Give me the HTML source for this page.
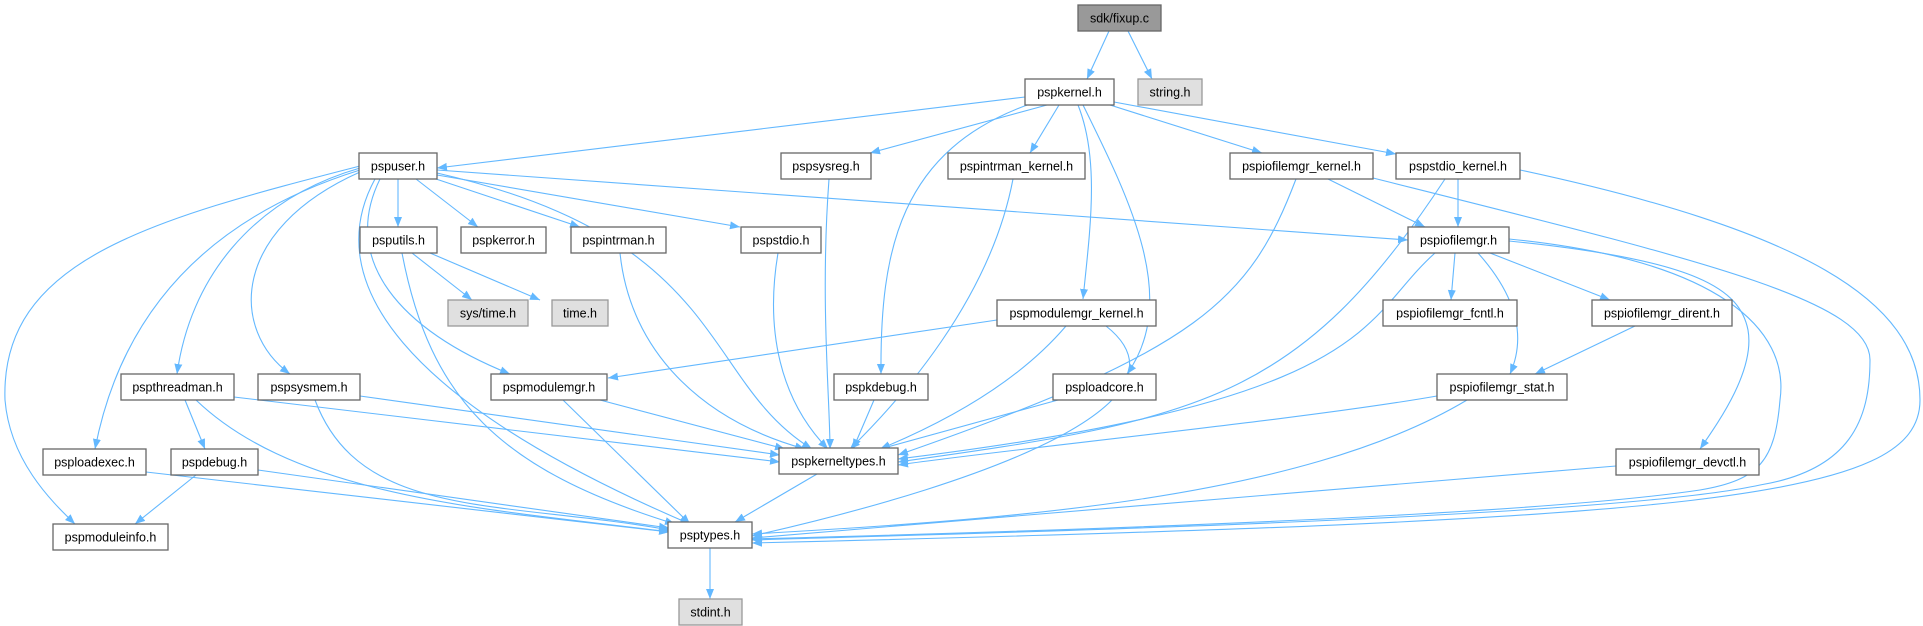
<!DOCTYPE html>
<html><head><meta charset="utf-8">
<style>
html,body{margin:0;padding:0;background:#fff;}
svg{display:block;}
text{font-family:"Liberation Sans",Helvetica,Arial,sans-serif;font-size:12.5px;fill:#000;}
.n{fill:#fff;stroke:#666;stroke-width:1.3;}
.g{fill:#e0e0e0;stroke:#999;stroke-width:1.3;}
.r{fill:#999;stroke:#666;stroke-width:1.3;}
.e{fill:none;stroke:#63b8ff;stroke-width:1.1;marker-end:url(#a);}
</style></head><body>
<svg width="1923" height="626" viewBox="0 0 1923 626" xmlns="http://www.w3.org/2000/svg">
<defs><marker id="a" viewBox="0 0 10 10" refX="10" refY="5" markerWidth="10" markerHeight="10" markerUnits="userSpaceOnUse" orient="auto"><path d="M0,1 L10,5 L0,9 z" fill="#63b8ff"/></marker></defs>
<g>
<path class="e" d="M1109,31 L1087,79"/>
<path class="e" d="M1128,31 L1152,79"/>
<path class="e" d="M1025,97 L437,168"/>
<path class="e" d="M1047,105 L870,153"/>
<path class="e" d="M1059,105 L1030,153"/>
<path class="e" d="M1110,105 L1262,153"/>
<path class="e" d="M1114,102 L1396,154"/>
<path class="e" d="M1078,105 C1100,160 1090,230 1083,299"/>
<path class="e" d="M1030,104 C900,150 880,250 881,374"/>
<path class="e" d="M1083,105 C1130,200 1180,300 1127,374"/>
<path class="e" d="M398,179 L398,227"/>
<path class="e" d="M416,179 L478,227"/>
<path class="e" d="M433,178 L580,227"/>
<path class="e" d="M437,175 L740,227"/>
<path class="e" d="M437,170 L1408,240"/>
<path class="e" d="M437,173 C730,240 700,380 812,449"/>
<path class="e" d="M380,179 C340,260 400,330 510,374"/>
<path class="e" d="M375,179 C320,280 400,400 690,524"/>
<path class="e" d="M360,168 C250,200 190,280 177,374"/>
<path class="e" d="M360,172 C230,230 230,330 290,374"/>
<path class="e" d="M360,170 C200,220 120,320 95,449"/>
<path class="e" d="M360,166 C150,220 0,260 5,400 C10,460 50,500 75,524"/>
<path class="e" d="M412,253 L472,300"/>
<path class="e" d="M430,253 L540,300"/>
<path class="e" d="M402,253 C430,400 500,470 675,524"/>
<path class="e" d="M620,253 C630,350 700,420 805,449"/>
<path class="e" d="M778,253 C765,330 780,400 828,449"/>
<path class="e" d="M829,179 C820,300 830,400 830,449"/>
<path class="e" d="M1013,179 C990,300 900,400 850,449"/>
<path class="e" d="M874,400 L853,449"/>
<path class="e" d="M1058,400 L880,449"/>
<path class="e" d="M1066,326 C1020,380 950,420 880,449"/>
<path class="e" d="M997,320 L608,378"/>
<path class="e" d="M1106,326 C1200,400 1000,480 752,536"/>
<path class="e" d="M1328,179 L1425,227"/>
<path class="e" d="M1296,179 C1250,300 1200,350 898,455"/>
<path class="e" d="M1373,178 C1700,260 1870,300 1870,360 C1870,420 1850,470 1760,485 C1600,520 900,535 752,540"/>
<path class="e" d="M1458,179 L1458,227"/>
<path class="e" d="M1445,179 C1300,400 1200,420 898,462"/>
<path class="e" d="M1520,170 C1800,230 1920,300 1920,400 C1920,500 1700,520 752,543"/>
<path class="e" d="M1455,253 L1451,300"/>
<path class="e" d="M1490,253 L1610,300"/>
<path class="e" d="M1478,253 C1520,300 1525,340 1510,374"/>
<path class="e" d="M1509,241 C1700,260 1740,290 1748,330 C1755,370 1720,420 1700,449"/>
<path class="e" d="M1435,253 C1360,320 1380,400 898,459"/>
<path class="e" d="M1509,239 C1720,260 1790,330 1780,400 C1775,460 1760,480 1700,490 C1500,520 900,535 752,539"/>
<path class="e" d="M1635,326 L1535,374"/>
<path class="e" d="M1437,396 C1300,420 1000,450 898,465"/>
<path class="e" d="M1467,400 C1300,500 1000,520 752,534"/>
<path class="e" d="M1616,466 L752,538"/>
<path class="e" d="M185,400 L205,449"/>
<path class="e" d="M234,397 L780,462"/>
<path class="e" d="M196,400 C300,500 500,510 670,532"/>
<path class="e" d="M360,396 L780,455"/>
<path class="e" d="M315,400 C360,520 500,500 670,530"/>
<path class="e" d="M600,400 L785,449"/>
<path class="e" d="M563,400 L690,524"/>
<path class="e" d="M146,472 L669,532"/>
<path class="e" d="M196,475 L135,524"/>
<path class="e" d="M258,470 L669,528"/>
<path class="e" d="M817,474 L735,522"/>
<path class="e" d="M710,548 L710,599"/>
</g>
<g text-anchor="middle">
<rect class="r" x="1078" y="5" width="83" height="26"/><text x="1119.5" y="22.5">sdk/fixup.c</text>
<rect class="n" x="1025" y="79" width="89" height="26"/><text x="1069.5" y="96.5">pspkernel.h</text>
<rect class="g" x="1138" y="79" width="64" height="26"/><text x="1170" y="96.5">string.h</text>
<rect class="n" x="359" y="153" width="78" height="26"/><text x="398" y="170.5">pspuser.h</text>
<rect class="n" x="781" y="153" width="90" height="26"/><text x="826" y="170.5">pspsysreg.h</text>
<rect class="n" x="948" y="153" width="137" height="26"/><text x="1016.5" y="170.5">pspintrman_kernel.h</text>
<rect class="n" x="1230" y="153" width="143" height="26"/><text x="1301.5" y="170.5">pspiofilemgr_kernel.h</text>
<rect class="n" x="1396" y="153" width="124" height="26"/><text x="1458" y="170.5">pspstdio_kernel.h</text>
<rect class="n" x="360" y="227" width="77" height="26"/><text x="398.5" y="244.5">psputils.h</text>
<rect class="n" x="461" y="227" width="85" height="26"/><text x="503.5" y="244.5">pspkerror.h</text>
<rect class="n" x="571" y="227" width="95" height="26"/><text x="618.5" y="244.5">pspintrman.h</text>
<rect class="n" x="741" y="227" width="80" height="26"/><text x="781" y="244.5">pspstdio.h</text>
<rect class="n" x="1408" y="227" width="101" height="26"/><text x="1458.5" y="244.5">pspiofilemgr.h</text>
<rect class="g" x="448" y="300" width="80" height="26"/><text x="488" y="317.5">sys/time.h</text>
<rect class="g" x="552" y="300" width="56" height="26"/><text x="580" y="317.5">time.h</text>
<rect class="n" x="997" y="300" width="159" height="26"/><text x="1076.5" y="317.5">pspmodulemgr_kernel.h</text>
<rect class="n" x="1383" y="300" width="134" height="26"/><text x="1450" y="317.5">pspiofilemgr_fcntl.h</text>
<rect class="n" x="1592" y="300" width="140" height="26"/><text x="1662" y="317.5">pspiofilemgr_dirent.h</text>
<rect class="n" x="121" y="374" width="113" height="26"/><text x="177.5" y="391.5">pspthreadman.h</text>
<rect class="n" x="258" y="374" width="102" height="26"/><text x="309" y="391.5">pspsysmem.h</text>
<rect class="n" x="491" y="374" width="116" height="26"/><text x="549" y="391.5">pspmodulemgr.h</text>
<rect class="n" x="834" y="374" width="94" height="26"/><text x="881" y="391.5">pspkdebug.h</text>
<rect class="n" x="1053" y="374" width="103" height="26"/><text x="1104.5" y="391.5">psploadcore.h</text>
<rect class="n" x="1437" y="374" width="130" height="26"/><text x="1502" y="391.5">pspiofilemgr_stat.h</text>
<rect class="n" x="43" y="449" width="103" height="26"/><text x="94.5" y="466.5">psploadexec.h</text>
<rect class="n" x="171" y="449" width="87" height="26"/><text x="214.5" y="466.5">pspdebug.h</text>
<rect class="n" x="779" y="448" width="119" height="26"/><text x="838.5" y="465.5">pspkerneltypes.h</text>
<rect class="n" x="1616" y="449" width="143" height="26"/><text x="1687.5" y="466.5">pspiofilemgr_devctl.h</text>
<rect class="n" x="53" y="524" width="115" height="26"/><text x="110.5" y="541.5">pspmoduleinfo.h</text>
<rect class="n" x="668" y="522" width="84" height="26"/><text x="710" y="539.5">psptypes.h</text>
<rect class="g" x="679" y="599" width="63" height="26"/><text x="710.5" y="616.5">stdint.h</text>
</g>
</svg>
</body></html>
